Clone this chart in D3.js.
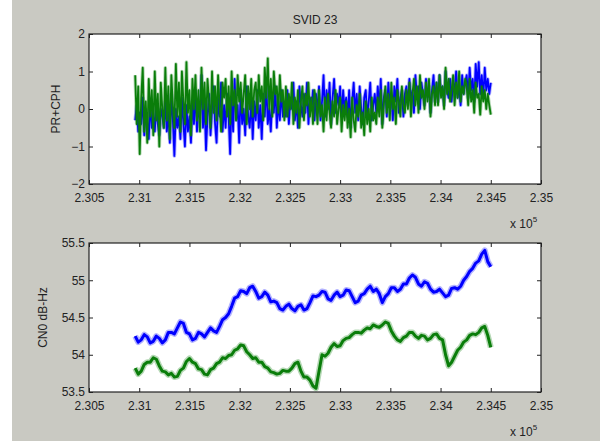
<!DOCTYPE html>
<html>
<head>
<meta charset="utf-8">
<script src="https://cdn.jsdelivr.net/npm/d3@7"></script>
<style>
  body { margin: 0; background: #ffffff; }
  svg text { font-family: "Liberation Sans", Arial, sans-serif; fill: #222; }
</style>
</head>
<body>
<div id="chart"></div>
<script>
// sampling grid of both recordings (seconds of week)
const t0 = 230960;
const dtTop = 15;
const dtBottom = 30;

const xTicks = [230500, 231000, 231500, 232000, 232500, 233000, 233500, 234000, 234500, 235000];
const xTickLabels = ["2.305", "2.31", "2.315", "2.32", "2.325", "2.33", "2.335", "2.34", "2.345", "2.35"];
const topYTicks = [-2, -1, 0, 1, 2];
const bottomYTicks = [53.5, 54, 54.5, 55, 55.5];

// PR+CPH, blue series
const prBlue = [
  -0.3, 0.1, -0.6, -0.1, -0.4, 0.3, -0.7, 0.0, -0.3, -0.8, 0.2, -0.5, -0.1, -0.6, 0.1, -0.4, -0.7, 0.0, -0.2, -0.5,
  0.2, -0.6, -0.1, -0.9, 0.4, -0.3, -1.25, 0.0, -0.5, -0.2, -0.8, 0.3, -0.4, -1.0, 0.1, -0.6, -0.2, -0.9, 0.2, -0.4,
  0.5, -0.6, 0.1, -0.3, 0.9, -0.5, 0.2, -1.1, -0.2, 0.4, -0.7, 0.0, 0.6, -0.4, -0.9, 0.3, -0.2, 0.7, -0.6, 0.1,
  -0.5, 0.4, -0.2, -1.2, 0.3, -0.6, 0.8, -0.3, 0.1, -0.9, 0.5, -0.4, 0.0, -0.7, 0.6, -0.2, -0.5, 0.3, -0.8, 0.2,
  -0.3, 0.5, -0.5, 0.1, -0.8, 0.4, -0.2, 0.7, -0.4, 0.0, -0.6, 0.3, -0.1, 0.6, -0.5, 0.2, -0.3, 0.5, -0.2, 0.1,
  -0.2, 0.5, -0.4, 0.3, 0.0, 0.7, -0.3, 0.2, -0.5, 0.6, 0.1, -0.2, 0.4, -0.1, 0.7, -0.4, 0.3, 0.0, 0.5, -0.3,
  0.4, -0.1, 0.6, -0.3, 0.2, 0.9, -0.2, 0.5, 0.0, 0.7, -0.4, 0.3, 0.8, -0.1, 0.4, 0.1, 0.6, -0.2, 0.5, 0.0,
  0.3, -0.2, 0.5, -0.5, 0.2, 0.7, -0.1, 0.4, -0.3, 0.6, 0.0, -0.4, 0.3, 0.5, -0.2, 0.2, 0.7, -0.3, 0.1, 0.4,
  -0.1, 0.6, 0.0, 0.8, -0.4, 0.3, 0.5, -0.2, 0.7, 0.1, 0.4, -0.3, 0.6, 0.2, 0.8, -0.1, 0.3, 0.5, -0.2, 0.4,
  0.6, 0.1, 0.8, 0.2, 0.5, -0.1, 0.9, 0.3, 0.6, 0.0, 0.7, 0.4, 0.1, 0.8, 0.3, 0.6, -0.1, 0.5, 0.9, 0.2,
  0.7, 0.2, 0.9, 0.4, 0.6, 0.1, 1.0, 0.5, 0.3, 0.8, 0.2, 0.7, 0.5, 1.0, 0.3, 0.6, 0.1, 0.9, 0.4, 0.7,
  0.9, 0.3, 1.1, 0.5, 0.8, 0.2, 1.2, 0.6, 1.25, 0.4, 0.9, 0.3, 1.1, 0.5, 0.8, 0.4, 0.7
];

// PR+CPH, green series
const prGreen = [
  0.9, -0.4, 0.6, -1.2, 0.3, 1.1, -0.6, 0.2, -0.9, 0.8, -0.2, 0.5, -0.7, 1.0, -0.3, 0.4, -1.0, 0.7, 0.0, -0.5,
  1.1, -0.3, 0.6, -0.8, 0.9, 0.1, -0.5, 1.2, -0.2, 0.7, -0.6, 1.0, 0.2, -0.4, 1.25, -0.1, 0.5, -0.7, 0.8, 0.0,
  0.9, -0.3, 0.5, -0.6, 1.1, 0.0, 0.7, -0.4, 0.8, 0.2, -0.5, 1.0, -0.1, 0.6, -0.3, 0.9, 0.1, -0.6, 0.7, 0.3,
  0.8, -0.2, 0.6, -0.4, 1.0, 0.1, 0.5, -0.3, 0.9, 0.2, 0.7, -0.1, 0.4, 0.9, -0.4, 0.6, 0.0, 0.8, -0.2, 0.5,
  0.7, -0.1, 0.9, 0.2, 0.6, -0.3, 1.1, 0.3, 1.35, 0.0, 0.8, -0.2, 1.0, 0.4, 0.6, -0.1, 0.9, 0.2, 0.5, -0.3,
  0.6, -0.2, 0.4, 0.0, 0.7, -0.4, 0.3, -0.1, 0.5, -0.5, 0.2, 0.6, -0.3, 0.4, 0.1, 0.7, -0.2, 0.3, -0.4, 0.5,
  0.2, -0.4, 0.5, -0.2, 0.1, -0.6, 0.3, -0.3, 0.4, -0.1, -0.5, 0.2, -0.2, 0.5, -0.4, 0.0, 0.3, -0.6, 0.1, -0.3,
  0.2, -0.5, 0.0, -0.75, 0.3, -0.3, -0.6, 0.1, -0.2, 0.4, -0.5, -0.1, -0.7, 0.2, -0.4, 0.0, -0.6, 0.3, -0.3, -0.1,
  -0.4, 0.3, -0.2, 0.5, -0.5, 0.1, 0.6, -0.1, 0.4, -0.3, 0.7, 0.0, 0.3, -0.4, 0.5, 0.2, -0.2, 0.6, 0.1, -0.1,
  0.5, 0.0, 0.7, -0.2, 0.4, 0.8, 0.1, 0.6, -0.1, 0.9, 0.3, 0.5, 0.0, 0.7, 0.2, 0.8, -0.2, 0.4, 0.6, 0.1,
  0.7, 0.1, 0.9, 0.3, 0.6, 0.0, 1.1, 0.4, 0.8, 0.2, 0.5, 0.9, 0.1, 0.7, 0.3, 1.0, 0.2, 0.6, 0.4, 0.8,
  0.6, 0.1, 0.8, 0.2, 0.5, -0.1, 0.7, 0.3, 0.4, -0.15, 0.6, 0.2, 0.5, 0.0, 0.4, 0.1, -0.15
];

// CN0, blue series
const cnBlue = [
  54.25, 54.17, 54.2, 54.27, 54.24, 54.16, 54.18, 54.25, 54.22, 54.16,
  54.2, 54.3, 54.3, 54.28, 54.36, 54.44, 54.42, 54.3, 54.28, 54.2,
  54.22, 54.3, 54.28, 54.24, 54.3, 54.36, 54.32, 54.3, 54.38, 54.47,
  54.5, 54.55, 54.65, 54.76, 54.78, 54.86, 54.85, 54.82, 54.9, 54.92,
  54.85, 54.76, 54.78, 54.84, 54.8, 54.71, 54.72, 54.7, 54.62, 54.6,
  54.65, 54.68, 54.62, 54.59, 54.65, 54.67, 54.6, 54.62, 54.7, 54.79,
  54.78, 54.8, 54.85, 54.84, 54.75, 54.73, 54.8, 54.84, 54.78, 54.8,
  54.87, 54.86, 54.78, 54.7, 54.72, 54.8, 54.82, 54.88, 54.92, 54.85,
  54.88, 54.82, 54.7, 54.78, 54.82, 54.9, 54.9, 54.85, 54.88, 54.95,
  54.95, 55.03, 55.07, 55.04, 54.95, 54.92, 54.98, 54.96, 54.88, 54.84,
  54.85, 54.88, 54.83, 54.78, 54.8, 54.89, 54.9, 54.88, 54.92, 55.0,
  55.05, 55.12, 55.16, 55.23, 55.26, 55.35, 55.4, 55.25, 55.18
];

// CN0, green series
const cnGreen = [
  53.82, 53.74, 53.78, 53.87, 53.9, 53.9, 53.96, 53.94, 53.85, 53.78,
  53.77, 53.73, 53.75, 53.7, 53.71, 53.79, 53.82, 53.91, 53.95, 53.9,
  53.88, 53.81, 53.8, 53.74, 53.73, 53.8, 53.82, 53.88, 53.9, 53.96,
  53.95, 53.99, 54.0, 54.06, 54.08, 54.13, 54.12, 54.04, 54.0, 53.95,
  53.96, 53.9, 53.9, 53.84, 53.82, 53.77, 53.76, 53.74, 53.75, 53.79,
  53.78, 53.78, 53.82, 53.88, 53.9, 53.78, 53.7, 53.7, 53.66, 53.58,
  53.55, 53.78, 54.0, 53.98, 54.02, 54.1, 54.15, 54.11, 54.12, 54.19,
  54.22, 54.23, 54.27, 54.3, 54.3, 54.29, 54.33, 54.36, 54.35, 54.4,
  54.38, 54.37, 54.4, 54.44, 54.42, 54.32, 54.25, 54.2, 54.18, 54.23,
  54.25, 54.3, 54.3, 54.25, 54.22, 54.26, 54.25, 54.2, 54.22, 54.27,
  54.28, 54.22, 54.2, 54.0, 53.85, 53.9, 53.98, 54.06, 54.1, 54.17,
  54.2, 54.26, 54.28, 54.27, 54.3, 54.36, 54.38, 54.26, 54.1
];

const blue = "#0000ff";
const green = "#0a7d0a";

const svg = d3.select("#chart").append("svg")
  .attr("width", 600)
  .attr("height", 441);

// figure background
svg.append("rect").attr("width", 600).attr("height", 441).attr("fill", "#c9c9c2");
svg.append("rect").attr("width", 12).attr("height", 441).attr("fill", "#ffffff");

const left = 89, right = 541;
const x = d3.scaleLinear().domain([230500, 235000]).range([left, right]);

function draw_panel(top, bottom, yDomain, yTicks, yLabel, labelX, series, dt, width) {
  const y = d3.scaleLinear().domain(yDomain).range([bottom, top]);
  const g = svg.append("g");

  g.append("rect")
    .attr("x", left).attr("y", top)
    .attr("width", right - left).attr("height", bottom - top)
    .attr("fill", "#ffffff");

  const clipId = "clip" + top;
  g.append("clipPath").attr("id", clipId)
    .append("rect")
    .attr("x", left).attr("y", top)
    .attr("width", right - left).attr("height", bottom - top);

  const line = d3.line()
    .x((d, i) => x(t0 + i * dt))
    .y(d => y(d));

  series.forEach(function(s) {
    // soft halo, like the blur of the scanned figure
    g.append("path")
      .datum(s.values)
      .attr("clip-path", "url(#" + clipId + ")")
      .attr("fill", "none")
      .attr("stroke", s.color)
      .attr("stroke-opacity", 0.3)
      .attr("stroke-width", width * 2)
      .attr("stroke-linejoin", "round")
      .attr("d", line);
    g.append("path")
      .datum(s.values)
      .attr("clip-path", "url(#" + clipId + ")")
      .attr("fill", "none")
      .attr("stroke", s.color)
      .attr("stroke-width", width)
      .attr("stroke-linejoin", "round")
      .attr("d", line);
  });

  // MATLAB style ticks: inward on all four sides
  g.append("g")
    .attr("transform", "translate(0," + bottom + ")")
    .call(d3.axisBottom(x).tickValues(xTicks).tickSizeInner(-4).tickSizeOuter(0)
      .tickFormat((d, i) => xTickLabels[i]).tickPadding(9))
    .call(a => a.select(".domain").remove());
  g.append("g")
    .attr("transform", "translate(0," + top + ")")
    .call(d3.axisTop(x).tickValues(xTicks).tickSizeInner(-4).tickSizeOuter(0).tickFormat(""))
    .call(a => a.select(".domain").remove());
  g.append("g")
    .attr("transform", "translate(" + left + ",0)")
    .call(d3.axisLeft(y).tickValues(yTicks).tickSizeInner(-4).tickSizeOuter(0)
      .tickFormat(d3.format("")).tickPadding(4))
    .call(a => a.select(".domain").remove());
  g.append("g")
    .attr("transform", "translate(" + right + ",0)")
    .call(d3.axisRight(y).tickValues(yTicks).tickSizeInner(-4).tickSizeOuter(0).tickFormat(""))
    .call(a => a.select(".domain").remove());

  g.selectAll(".tick line").attr("stroke", "#222");
  g.selectAll(".tick text").attr("font-size", 12).attr("fill", "#222");

  g.append("rect")
    .attr("x", left).attr("y", top)
    .attr("width", right - left).attr("height", bottom - top)
    .attr("fill", "none").attr("stroke", "#222").attr("stroke-width", 1.2);

  g.append("text")
    .attr("transform", "translate(" + labelX + "," + ((top + bottom) / 2) + ") rotate(-90)")
    .attr("text-anchor", "middle")
    .attr("font-size", 12)
    .text(yLabel);

  // exponent label
  const ex = g.append("text")
    .attr("x", 510).attr("y", bottom + 44)
    .attr("font-size", 12);
  ex.append("tspan").text("x 10");
  ex.append("tspan").attr("dy", -6).attr("font-size", 8).text("5");
}

draw_panel(34, 184, [-2, 2], topYTicks, "PR+CPH", 60,
  [{values: prBlue, color: blue}, {values: prGreen, color: green}], dtTop, 1.8);
draw_panel(243, 392, [53.5, 55.5], bottomYTicks, "CN0 dB-Hz", 47,
  [{values: cnBlue, color: blue}, {values: cnGreen, color: green}], dtBottom, 3);

svg.append("text")
  .attr("x", 315).attr("y", 24)
  .attr("text-anchor", "middle")
  .attr("font-size", 12)
  .text("SVID 23");
</script>
</body>
</html>
